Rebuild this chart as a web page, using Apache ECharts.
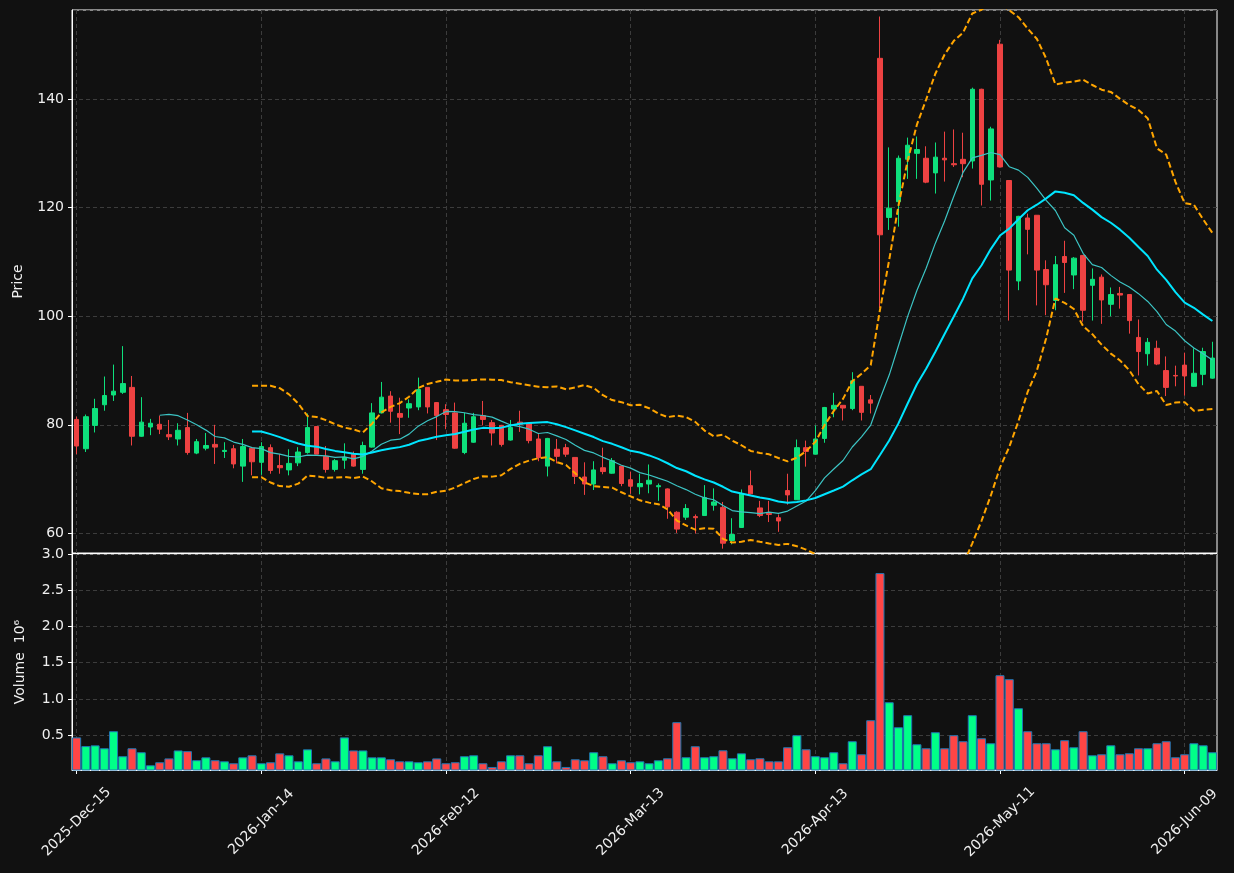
<!DOCTYPE html>
<html>
<head>
<meta charset="utf-8">
<title>Price / Volume</title>
<script src="https://cdn.jsdelivr.net/npm/echarts@6/dist/echarts.min.js"></script>
<style>
  html, body { margin: 0; padding: 0; background: #111111; }
  #chart { width: 1234px; height: 873px; }
</style>
</head>
<body>
<div id="chart"></div>
<script>
// trading days, month by month (exchange holidays skipped)
const tradingDays = [
  ['2025-Dec', [15, 16, 17, 18, 19, 22, 23, 24, 26, 29, 30, 31]],
  ['2026-Jan', [2, 5, 6, 7, 8, 9, 12, 13, 14, 15, 16, 20, 21, 22, 23, 26, 27, 28, 29, 30]],
  ['2026-Feb', [2, 3, 4, 5, 6, 9, 10, 11, 12, 13, 17, 18, 19, 20, 23, 24, 25, 26, 27]],
  ['2026-Mar', [2, 3, 4, 5, 6, 9, 10, 11, 12, 13, 16, 17, 18, 19, 20, 23, 24, 25, 26, 27, 30, 31]],
  ['2026-Apr', [1, 2, 6, 7, 8, 9, 10, 13, 14, 15, 16, 17, 20, 21, 22, 23, 24, 27, 28, 29, 30]],
  ['2026-May', [1, 4, 5, 6, 7, 8, 11, 12, 13, 14, 15, 18, 19, 20, 21, 22, 26, 27, 28, 29]],
  ['2026-Jun', [1, 2, 3, 4, 5, 8, 9, 10, 11, 12]]
];
const dates = [];
tradingDays.forEach(([month, days]) => {
  days.forEach(d => dates.push(month + '-' + String(d).padStart(2, '0')));
});

const opens = [
  81.0, 75.6, 79.9, 83.7, 85.5, 86.0, 86.9, 77.9, 79.6, 80.1,
  78.2, 77.4, 79.5, 74.8, 75.7, 76.4, 75.1, 75.6, 72.4, 75.7,
  73.1, 75.8, 72.5, 71.7, 73.0, 74.9, 79.7, 74.2, 71.8, 73.5,
  74.6, 71.8, 75.9, 82.2, 85.3, 82.1, 83.1, 83.3, 86.9, 84.1,
  82.8, 82.2, 74.9, 76.8, 81.7, 80.4, 79.9, 77.2, 80.5, 80.3,
  77.4, 72.4, 75.5, 75.8, 74.0, 70.4, 69.1, 72.1, 71.1, 72.4,
  69.9, 68.6, 69.1, 68.6, 68.2, 63.9, 63.0, 63.1, 63.3, 65.2,
  64.8, 58.7, 61.1, 68.8, 64.7, 63.7, 62.9, 67.9, 66.2, 75.8,
  74.6, 77.5, 82.9, 83.6, 83.0, 87.1, 84.6, 147.5, 118.2, 121.1,
  128.9, 130.0, 129.1, 126.4, 129.1, 128.1, 128.9, 128.6, 141.8, 125.1,
  150.1, 125.0, 106.5, 118.1, 118.6, 108.6, 102.9, 111.0, 107.6, 111.2,
  105.7, 107.2, 102.2, 104.2, 104.0, 96.1, 93.1, 94.1, 90.0, 89.1,
  91.0, 87.1, 89.3, 88.6
];
const highs = [
  81.5, 81.9, 84.8, 88.9, 91.1, 94.5, 89.0, 85.1, 81.1, 81.7,
  80.9, 80.3, 82.2, 77.4, 78.5, 80.0, 76.8, 76.3, 77.4, 75.8,
  76.8, 76.4, 74.6, 75.5, 75.9, 82.1, 79.7, 76.1, 73.7, 76.6,
  75.1, 76.9, 84.0, 87.9, 86.2, 85.0, 84.7, 88.7, 86.9, 84.2,
  83.8, 84.1, 82.2, 82.2, 84.4, 80.9, 80.0, 80.9, 82.6, 80.3,
  78.3, 77.6, 77.4, 76.5, 74.0, 73.1, 73.3, 75.8, 73.9, 72.4,
  71.4, 71.0, 72.7, 69.2, 68.3, 64.1, 65.4, 63.5, 68.9, 68.3,
  65.8, 62.8, 68.1, 71.6, 66.0, 66.0, 63.5, 71.0, 77.3, 77.1,
  79.9, 83.3, 85.9, 83.6, 89.7, 87.1, 85.5, 155.2, 131.1, 129.6,
  132.9, 133.1, 131.3, 132.0, 134.0, 134.4, 133.8, 142.1, 141.9, 134.9,
  150.9, 125.0, 118.5, 118.9, 118.6, 110.3, 111.1, 113.9, 110.9, 111.2,
  108.8, 107.7, 105.3, 105.4, 104.1, 99.4, 96.0, 95.5, 92.6, 90.9,
  93.3, 94.1, 94.2, 95.3
];
const lows = [
  74.6, 75.0, 78.6, 82.6, 84.4, 85.7, 76.2, 77.8, 78.1, 78.3,
  77.2, 76.2, 74.5, 74.6, 75.3, 72.8, 73.9, 72.0, 69.5, 70.7,
  70.8, 71.0, 71.0, 70.7, 72.4, 74.7, 74.6, 71.2, 71.4, 71.9,
  72.3, 71.0, 75.8, 82.1, 80.4, 78.3, 81.3, 82.7, 82.1, 77.2,
  79.2, 75.6, 74.6, 76.7, 79.9, 76.2, 76.0, 77.1, 78.7, 76.6,
  73.3, 70.5, 72.9, 74.1, 69.1, 67.1, 68.0, 70.9, 71.0, 68.7,
  67.3, 67.2, 67.4, 66.0, 62.7, 60.1, 62.5, 60.0, 63.3, 64.2,
  57.2, 58.0, 61.0, 67.2, 63.0, 62.1, 60.3, 65.3, 66.2, 72.3,
  74.6, 76.7, 81.4, 80.8, 82.7, 80.8, 82.1, 101.5, 115.9, 116.5,
  125.3, 125.3, 124.5, 122.6, 124.8, 127.5, 125.6, 127.2, 120.4, 121.3,
  127.4, 99.2, 104.8, 111.4, 102.0, 100.2, 101.1, 104.3, 105.0, 99.0,
  99.2, 98.6, 100.0, 101.4, 96.8, 89.1, 90.9, 91.0, 85.3, 87.1,
  85.4, 87.0, 87.3, 88.5
];
const closes = [
  76.1, 81.5, 83.0, 85.4, 86.2, 87.6, 77.9, 80.5, 80.3, 79.2,
  77.8, 79.0, 74.9, 76.9, 76.2, 75.9, 75.3, 72.8, 76.0, 73.2,
  76.0, 71.6, 72.1, 72.9, 75.0, 79.5, 74.6, 71.8, 73.4, 74.0,
  72.4, 76.2, 82.2, 85.1, 82.5, 81.4, 83.9, 86.5, 83.3, 81.7,
  81.9, 75.7, 80.3, 81.5, 81.0, 78.5, 76.4, 79.5, 80.1, 77.1,
  74.0, 77.5, 74.2, 74.6, 70.5, 69.1, 71.7, 71.4, 73.4, 69.2,
  68.7, 69.2, 69.8, 68.8, 64.9, 60.8, 64.6, 62.9, 66.6, 65.8,
  58.2, 59.8, 67.3, 67.3, 63.3, 63.5, 62.3, 67.1, 75.8, 75.1,
  77.4, 83.2, 83.6, 83.1, 88.1, 82.3, 84.0, 115.0, 119.9, 129.1,
  131.5, 130.7, 124.7, 129.3, 128.8, 127.9, 128.1, 141.8, 124.3, 134.5,
  127.5, 108.5, 118.4, 116.0, 108.5, 105.8, 109.5, 109.9, 110.7, 101.1,
  106.8, 103.0, 104.0, 103.9, 99.2, 93.5, 95.2, 91.2, 86.9, 89.0,
  89.0, 89.5, 93.5, 92.3
];
// volume in millions of shares
const volumes = [
  0.47, 0.35, 0.36, 0.32, 0.555, 0.21, 0.32, 0.265, 0.085, 0.127,
  0.18, 0.29, 0.28, 0.155, 0.195, 0.155, 0.14, 0.113, 0.195, 0.223,
  0.113, 0.127, 0.25, 0.223, 0.14, 0.305, 0.113, 0.18, 0.14, 0.47,
  0.29, 0.29, 0.195, 0.195, 0.168, 0.14, 0.14, 0.127, 0.14, 0.18,
  0.113, 0.127, 0.21, 0.223, 0.113, 0.062, 0.14, 0.223, 0.223, 0.113,
  0.223, 0.348, 0.14, 0.062, 0.168, 0.154, 0.265, 0.21, 0.113, 0.154,
  0.127, 0.14, 0.113, 0.154, 0.182, 0.68, 0.196, 0.348, 0.196, 0.21,
  0.292, 0.182, 0.25, 0.168, 0.182, 0.14, 0.14, 0.334, 0.5, 0.306,
  0.21, 0.196, 0.265, 0.113, 0.417, 0.237, 0.707, 2.737, 0.955, 0.61,
  0.776, 0.375, 0.32, 0.541, 0.32, 0.5, 0.417, 0.776, 0.458, 0.389,
  1.328, 1.273, 0.872, 0.555, 0.389, 0.389, 0.306, 0.431, 0.334, 0.555,
  0.223, 0.237, 0.361, 0.237, 0.251, 0.32, 0.32, 0.389, 0.417, 0.196,
  0.237, 0.389, 0.361, 0.265
];

const UP = '#0ee07c', DOWN = '#ee4242';
const VOL_UP = '#00ff88', VOL_DOWN = '#ff4545';
const TEXT = '#f0f0f0', GRID_LINE = '#3c3c3c';
const FONT = 'DejaVu Sans';

// moving average / bollinger, same as the original indicator panel
function rollingMean(values, n) {
  return values.map((v, i) => {
    if (i < n - 1) return '-';
    let s = 0;
    for (let k = i - n + 1; k <= i; k++) s += values[k];
    return s / n;
  });
}
function rollingStd(values, n) {
  const mean = rollingMean(values, n);
  return values.map((v, i) => {
    if (i < n - 1) return '-';
    let s = 0;
    for (let k = i - n + 1; k <= i; k++) s += Math.pow(values[k] - mean[i], 2);
    return Math.sqrt(s / (n - 1));
  });
}
const ma10 = rollingMean(closes, 10);
const ma20 = rollingMean(closes, 20);
const sd20 = rollingStd(closes, 20);
const bbUpper = ma20.map((m, i) => m === '-' ? '-' : m + 2 * sd20[i]);
const bbLower = ma20.map((m, i) => m === '-' ? '-' : m - 2 * sd20[i]);

const candles = dates.map((d, i) => [opens[i], closes[i], lows[i], highs[i]]);
const volumeBars = volumes.map((v, i) => ({
  value: v,
  itemStyle: { color: closes[i] >= opens[i] ? VOL_UP : VOL_DOWN }
}));

const chart = echarts.init(document.getElementById('chart'));

const xSplit = {
  show: true, interval: 19, alignWithLabel: true,
  lineStyle: { color: GRID_LINE, type: [4, 3], width: 1 }
};
const ySplit = { show: true, lineStyle: { color: GRID_LINE, type: [4, 3], width: 1 } };

const option = {
  backgroundColor: '#111111',
  animation: false,
  textStyle: { fontFamily: FONT, color: TEXT },
  grid: [
    { left: 72, right: 17, top: 10, height: 543, show: true, backgroundColor: '#111111', borderColor: '#ffffff', borderWidth: 1 },
    { left: 72, right: 17, top: 554, height: 216, show: true, backgroundColor: '#111111', borderColor: '#ffffff', borderWidth: 1 }
  ],
  xAxis: [
    {
      type: 'category', gridIndex: 0, data: dates, boundaryGap: true,
      axisLine: { show: true, lineStyle: { color: '#ffffff' } },
      axisTick: { show: false },
      axisLabel: { show: false, interval: 19 },
      splitLine: xSplit
    },
    {
      type: 'category', gridIndex: 1, data: dates, boundaryGap: true,
      axisLine: { show: true, lineStyle: { color: '#ffffff' } },
      axisTick: { show: true, interval: 19, alignWithLabel: true, length: 4, lineStyle: { color: '#ffffff' } },
      axisLabel: {
        interval: 19, rotate: 45, color: TEXT, fontSize: 14, fontFamily: FONT,
        align: 'center', verticalAlign: 'middle', margin: 52
      },
      splitLine: xSplit
    }
  ],
  yAxis: [
    {
      type: 'value', gridIndex: 0, min: 56.4, max: 156.4, splitNumber: 5,
      name: 'Price', nameLocation: 'middle', nameGap: 47,
      nameTextStyle: { color: TEXT, fontSize: 14, fontFamily: FONT },
      axisLine: { show: true, lineStyle: { color: '#ffffff' } },
      axisTick: { show: true, length: 4, lineStyle: { color: '#ffffff' } },
      axisLabel: { color: TEXT, fontSize: 14, fontFamily: FONT, margin: 8, showMinLabel: false, showMaxLabel: false },
      splitLine: ySplit
    },
    {
      type: 'value', gridIndex: 1, min: 0.02, max: 3.0, splitNumber: 5,
      name: 'Volume  10⁶', nameLocation: 'middle', nameGap: 45,
      nameTextStyle: { color: TEXT, fontSize: 14, fontFamily: FONT },
      axisLine: { show: true, lineStyle: { color: '#ffffff' } },
      axisTick: { show: true, length: 4, lineStyle: { color: '#ffffff' } },
      axisLabel: {
        color: TEXT, fontSize: 14, fontFamily: FONT, margin: 8, showMinLabel: false,
        formatter: v => v.toFixed(1)
      },
      splitLine: ySplit
    }
  ],
  series: [
    {
      type: 'candlestick', xAxisIndex: 0, yAxisIndex: 0, data: candles, barWidth: 5,
      itemStyle: { color: UP, color0: DOWN, borderColor: UP, borderColor0: DOWN, borderWidth: 1 },
      z: 2
    },
    {
      type: 'line', xAxisIndex: 0, yAxisIndex: 0, data: ma10, symbol: 'none',
      lineStyle: { color: '#3cc4c4', width: 1.2 }, z: 3
    },
    {
      type: 'line', xAxisIndex: 0, yAxisIndex: 0, data: ma20, symbol: 'none',
      lineStyle: { color: '#00e5ff', width: 2 }, z: 3
    },
    {
      type: 'line', xAxisIndex: 0, yAxisIndex: 0, data: bbUpper, symbol: 'none',
      lineStyle: { color: '#ffa500', width: 2, type: [6, 3] }, z: 3
    },
    {
      type: 'line', xAxisIndex: 0, yAxisIndex: 0, data: bbLower, symbol: 'none',
      lineStyle: { color: '#ffa500', width: 2, type: [6, 3] }, z: 3
    },
    {
      type: 'bar', xAxisIndex: 1, yAxisIndex: 1, data: volumeBars,
      barCategoryGap: '2%',
      itemStyle: { borderColor: '#1f77b4', borderWidth: 1 }
    }
  ]
};

chart.setOption(option);
</script>
</body>
</html>
